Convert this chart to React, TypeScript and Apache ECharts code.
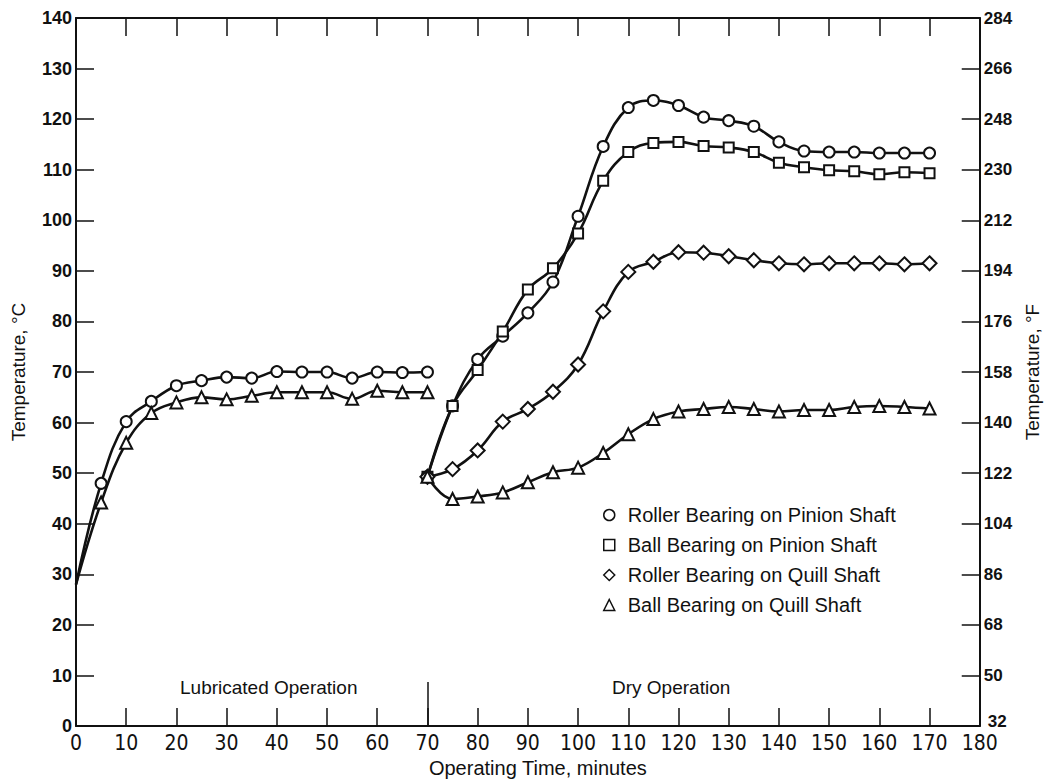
import React, { useEffect, useRef } from "react";
import * as echarts from "echarts";

// ---- data ----
const lubTime = [0, 5, 10, 15, 20, 25, 30, 35, 40, 45, 50, 55, 60, 65, 70];
const lubRollerPinion = [28, 48, 60.2, 64.2, 67.3, 68.3, 69.0, 68.8, 70.1, 70, 70, 68.8, 70, 69.9, 70];
const lubBallQuill = [28, 44.2, 56, 61.9, 64, 65, 64.6, 65.3, 66, 66, 66, 64.7, 66.3, 66, 66];

const dryTime = [70, 75, 80, 85, 90, 95, 100, 105, 110, 115, 120, 125, 130, 135, 140, 145, 150, 155, 160, 165, 170];
const dryRollerPinion = [49.3, 63.3, 72.5, 77.1, 81.7, 87.8, 100.8, 114.6, 122.3, 123.7, 122.7, 120.4, 119.7, 118.6, 115.5, 113.7, 113.5, 113.5, 113.3, 113.3, 113.3];
const dryBallPinion = [49.3, 63.3, 70.4, 78, 86.3, 90.5, 97.4, 107.8, 113.5, 115.3, 115.5, 114.7, 114.4, 113.5, 111.4, 110.5, 109.9, 109.7, 109.1, 109.5, 109.3];
const dryRollerQuill = [49.3, 50.8, 54.5, 60.2, 62.7, 66.1, 71.5, 82.0, 89.8, 91.8, 93.7, 93.6, 92.9, 92.1, 91.5, 91.3, 91.5, 91.5, 91.5, 91.3, 91.5];
const dryBallQuill = [49.3, 44.9, 45.4, 46.2, 48.2, 50.2, 51.1, 54.0, 57.7, 60.7, 62.2, 62.7, 63.1, 62.7, 62.2, 62.5, 62.5, 63.1, 63.3, 63.1, 62.8];

const seriesNames = [
  "Roller Bearing on Pinion Shaft",
  "Ball Bearing on Pinion Shaft",
  "Roller Bearing on Quill Shaft",
  "Ball Bearing on Quill Shaft",
];
const xTicks = [0, 10, 20, 30, 40, 50, 60, 70, 80, 90, 100, 110, 120, 130, 140, 150, 160, 170, 180];
const celsiusTicks = [0, 10, 20, 30, 40, 50, 60, 70, 80, 90, 100, 110, 120, 130, 140];
const fahrenheitTicks = [32, 50, 68, 86, 104, 122, 140, 158, 176, 194, 212, 230, 248, 266, 284];
const phaseLabels = ["Lubricated Operation", "Dry Operation"];
const phaseBoundary = 70;

const INK = "#111";
const NARROW = "'Liberation Sans Narrow', 'DejaVu Sans Condensed', 'Liberation Sans', sans-serif";
const SANS = "'Liberation Sans', Arial, sans-serif";

function pairs(xs: number[], ys: number[], noSymbolFirst = false) {
  return xs.map((x, i) =>
    noSymbolFirst && i === 0 ? { value: [x, ys[i]], symbol: "none" } : [x, ys[i]]
  );
}

const symbols = ["circle", "rect", "diamond", "triangle"];
const symbolSizes = [11, 10, 14, 12];

function lineSeries(nameIdx: number, data: any[], extra: any = {}) {
  return {
    type: "line",
    name: seriesNames[nameIdx],
    data,
    smooth: 0.4,
    symbol: symbols[nameIdx],
    symbolSize: symbolSizes[nameIdx],
    showAllSymbol: true,
    lineStyle: { color: INK, width: 2.6 },
    itemStyle: { color: "#fff", borderColor: INK, borderWidth: 2 },
    emphasis: { disabled: true },
    z: 3,
    ...extra,
  };
}

export default function App() {
  const ref = useRef<HTMLDivElement>(null);
  useEffect(() => {
    if (!ref.current) return;
    const chart = echarts.init(ref.current, undefined, { renderer: "svg" });
    const axisLine = { show: true, onZero: false, lineStyle: { color: INK, width: 2 } };
    const axisTick = { show: true, inside: true, length: 18, lineStyle: { color: INK, width: 1.5 } };
    const rightLabelFont = { color: INK, fontFamily: SANS, fontWeight: "bold", fontSize: 17 };
    chart.setOption({
      animation: false,
      backgroundColor: "#fff",
      grid: { left: 76, right: 58, top: 18, bottom: 56, containLabel: false },
      xAxis: [
        {
          type: "value",
          min: xTicks[0],
          max: xTicks[xTicks.length - 1],
          interval: 10,
          position: "bottom",
          axisLine,
          axisTick,
          splitLine: { show: false },
          axisLabel: { color: INK, fontFamily: NARROW, fontSize: 21, margin: 6 },
          name: "Operating Time, minutes",
          nameLocation: "middle",
          nameGap: 30,
          nameTextStyle: { color: INK, fontFamily: SANS, fontSize: 20, padding: [0, 0, 0, 20] },
        },
        {
          type: "value",
          min: xTicks[0],
          max: xTicks[xTicks.length - 1],
          interval: 10,
          position: "top",
          axisLine,
          axisTick,
          splitLine: { show: false },
          axisLabel: { show: false },
        },
      ],
      yAxis: [
        {
          type: "value",
          min: celsiusTicks[0],
          max: celsiusTicks[celsiusTicks.length - 1],
          interval: 10,
          position: "left",
          axisLine,
          axisTick,
          splitLine: { show: false },
          axisLabel: { color: INK, fontFamily: SANS, fontWeight: "bold", fontSize: 18, margin: 4 },
          name: "Temperature, \u00B0C",
          nameLocation: "middle",
          nameGap: 48,
          nameRotate: 90,
          nameTextStyle: { color: INK, fontFamily: SANS, fontSize: 19 },
        },
        {
          type: "value",
          min: celsiusTicks[0],
          max: celsiusTicks[celsiusTicks.length - 1],
          interval: 10,
          position: "right",
          axisLine,
          axisTick,
          splitLine: { show: false },
          axisLabel: {
            ...rightLabelFont,
            margin: 4,
            formatter: (v: number) => {
              const t = String(fahrenheitTicks[celsiusTicks.indexOf(v)] ?? "");
              return v === celsiusTicks[0] ? `{low|${t}}` : t;
            },
            rich: {
              low: { ...rightLabelFont, padding: [0, 0, 10, 4] },
            },
          },
          name: "Temperature, \u00B0F",
          nameLocation: "middle",
          nameGap: 42,
          nameRotate: 90,
          nameTextStyle: { color: INK, fontFamily: SANS, fontSize: 19 },
        },
      ],
      legend: {
        show: true,
        orient: "vertical",
        left: 598,
        top: 500,
        itemWidth: 11,
        itemHeight: 11,
        itemGap: 10,
        textStyle: { color: INK, fontFamily: SANS, fontSize: 20, padding: [0, 0, 0, 8] },
        selectedMode: false,
        data: seriesNames.map((n, i) => ({
          name: n,
          icon: symbols[i],
          itemStyle: { color: "#fff", borderColor: INK, borderWidth: 1.5 },
        })),
      },
      series: [
        lineSeries(0, pairs(lubTime, lubRollerPinion, true)),
        lineSeries(3, pairs(lubTime, lubBallQuill, true)),
        lineSeries(0, pairs(dryTime, dryRollerPinion)),
        lineSeries(1, pairs(dryTime, dryBallPinion)),
        lineSeries(2, pairs(dryTime, dryRollerQuill)),
        lineSeries(3, pairs(dryTime, dryBallQuill), {
          markLine: {
            silent: true,
            symbol: "none",
            label: { show: false },
            lineStyle: { color: INK, width: 1.5, type: "solid" },
            data: [[{ coord: [phaseBoundary, 0] }, { coord: [phaseBoundary, 8.7] }]],
          },
        }),
      ],
      graphic: [
        {
          type: "text",
          left: 180,
          top: 678,
          style: { text: phaseLabels[0], fill: INK, font: `19px ${SANS}` },
        },
        {
          type: "text",
          left: 612,
          top: 678,
          style: { text: phaseLabels[1], fill: INK, font: `19px ${SANS}` },
        },
      ],
    });
    return () => chart.dispose();
  }, []);
  return (
    <div
      ref={ref}
      style={{ position: "absolute", left: 0, top: 0, width: 1050, height: 783, background: "#fff" }}
    />
  );
}
